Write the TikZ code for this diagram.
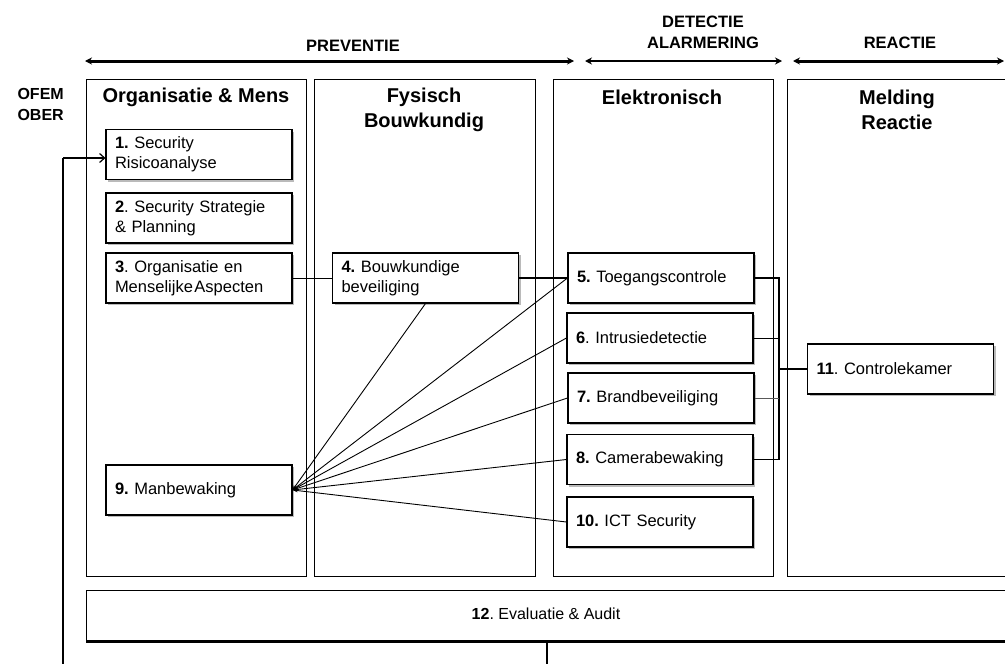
\documentclass[tikz,border=0pt]{standalone}
\usepackage{fontspec}
\setmainfont{Liberation Sans}
\usetikzlibrary{arrows.meta,shadows}
\frenchspacing
\begin{document}
\begin{tikzpicture}[x=1pt,y=-1pt,
 box/.style={draw, line width=1.1pt, fill=white, minimum width=186pt, minimum height=50pt, text width=168pt, inner xsep=9pt, inner ysep=2pt, align=left, font=\fontsize{16.5}{20}\selectfont, drop shadow={shadow xshift=2pt, shadow yshift=-2pt, fill=black!45, opacity=0.6}},
 col/.style={draw, line width=1.3pt, anchor=north west, minimum height=497pt, inner sep=0pt},
 head/.style={font=\fontsize{20}{25}\selectfont\bfseries, align=center},
 phase/.style={font=\fontsize{16.5}{21}\selectfont\bfseries, align=center},
 bar/.style={line width=3pt, {Stealth[length=7pt,width=7pt]}-{Stealth[length=7pt,width=7pt]}},
 fan/.style={line width=0.9pt, -{Stealth[length=5pt,width=3.5pt]}},
 conn/.style={line width=0.9pt},
]
\useasboundingbox (0,0) rectangle (1005,664);
\clip (0,0) rectangle (1005,664);

% phase arrows
\coordinate (pL) at (85,61); \coordinate (pR) at (574,61);
\coordinate (dL) at (585,61); \coordinate (dR) at (782,61);
\coordinate (rL) at (793,61); \coordinate (rR) at (1004,61);
\draw[bar] (pL) -- (pR);
\draw[bar, line width=2.2pt] (dL) -- (dR);
\draw[bar] (rL) -- (rR);
\node[phase] (tprev) at (353,46) {PREVENTIE};
\node[phase] (tdet) at (703,32.5) {DETECTIE\\ALARMERING};
\node[phase] (treac) at (900,43) {REACTIE};
\node[phase, anchor=west, align=left, font=\fontsize{16}{21}\selectfont\bfseries] (tofem) at (14,104.5) {OFEM\\OBER};

% columns
\node[col, minimum width=220pt] (c1) at (86,79) {};
\node[col, minimum width=221pt] (c2) at (314,79) {};
\node[col, minimum width=220pt] (c3) at (553,79) {};
\node[col, minimum width=240pt] (c4) at (787,79) {};
\node[head] (h1) at (196,97) {Organisatie \& Mens};
\node[head] (h2) at (424,109.5) {Fysisch\\Bouwkundig};
\node[head] (h3) at (662,97) {Elektronisch};
\node[head] (h4) at (897,109.5) {Melding\\Reactie};

% boxes
\node[box] (b1) at (199,154.5) {\textbf{1.} Security\\Risicoanalyse};
\node[box] (b2) at (199,218) {\textbf{2}. Security Strategie\\\& Planning};
\node[box] (b3) at (199,278) {\textbf{3}. Organisatie en\\Menselijke\hspace{1.5pt}Aspecten};
\node[box] (b4) at (425.5,278) {\textbf{4.} Bouwkundige\\beveiliging};
\node[box] (b5) at (661,278) {\textbf{5.} Toegangscontrole};
\node[box] (b6) at (660,338) {\textbf{6}. Intrusiedetectie};
\node[box] (b7) at (661,398) {\textbf{7.} Brandbeveiliging};
\node[box] (b8) at (660,459.5) {\textbf{8.} Camerabewaking};
\node[box] (b10) at (660,522) {\textbf{10.} ICT Security};
\node[box] (b11) at (900.5,369) {\textbf{11}. Controlekamer};
\node[box] (b9) at (199,490) {\textbf{9.} Manbewaking};

% evaluatie
\node[draw, line width=1.1pt, anchor=north west, minimum width=921pt, minimum height=50pt, inner sep=0pt] (b12) at (86,590) {};
\node[font=\fontsize{16}{18}\selectfont] (t12) at (546,614) {\textbf{12}. Evaluatie \& Audit};
\draw[line width=3pt] (b12.south west) -- (b12.south east);
\coordinate (e12) at (547,664);
\draw[line width=1.8pt] (b12.south -| e12) -- (e12);

% feedback loop
\coordinate (fb) at (63,664);
\coordinate (b1in) at ([yshift=-3.5pt]b1.west);
\draw[line width=1.6pt] (fb) -- (fb |- b1in);
\draw[line width=1.2pt, -{Straight Barb[length=5pt,width=9pt]}] (fb |- b1in) -- (b1in);

% connectors
\draw[conn] (b3.east) -- (b4.west);
\draw[line width=1.8pt] (b4.east) -- (b5.west);
\coordinate (busx) at (779,0);
\draw[line width=1.6pt] (b5.east) -- (b5.east -| busx) -- (b8.east -| busx) -- (b8.east);
\draw[conn] (b6.east) -- (b6.east -| busx);
\draw[conn, black!65] (b7.east) -- (b7.east -| busx);
\draw[line width=1.2pt] (b11.west) -- (b11.west -| busx);

% fan to Manbewaking
\draw[fan] (b4.south) -- (b9.east);
\draw[fan] (b5.west) -- (b9.east);
\draw[fan] (b6.west) -- (b9.east);
\draw[fan] (b7.west) -- (b9.east);
\draw[fan] (b8.west) -- (b9.east);
\draw[fan] (b10.west) -- (b9.east);
\end{tikzpicture}
\end{document}
